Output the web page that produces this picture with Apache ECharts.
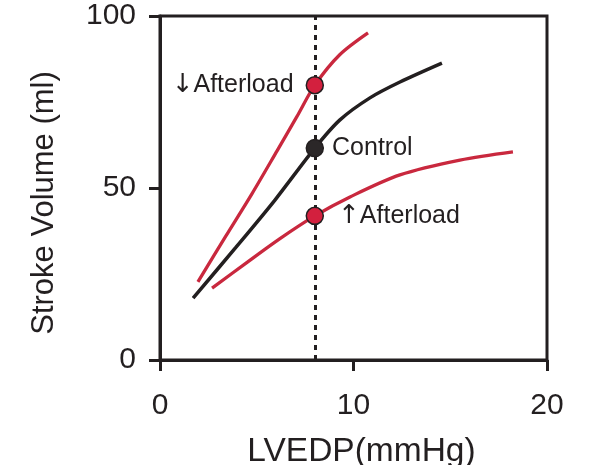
<!DOCTYPE html>
<html>
<head>
<meta charset="utf-8">
<script src="https://cdn.jsdelivr.net/npm/echarts@6/dist/echarts.min.js"></script>
<style>html,body{margin:0;padding:0;background:#fff}#c{width:597px;height:465px}</style>
</head>
<body>
<div id="c"></div>
<script>
// LVEDP (mmHg) vs stroke volume (ml)
const controlX = [1.71, 3.93, 5.94, 8, 9.3, 10.85, 12.4, 14.57];
const controlY = [18.0, 32.8, 46.5, 61.6, 69.8, 76.2, 80.8, 86.3];
const lowAfterloadX = [1.96, 3.4, 4.75, 6.05, 7.08, 8, 9.3, 10.75];
const lowAfterloadY = [22.7, 36.0, 48.3, 60.8, 70.8, 79.9, 88.8, 95.1];
const highAfterloadX = [2.69, 4.5, 6.2, 8, 9.82, 12.4, 15.5, 18.24];
const highAfterloadY = [20.9, 28.4, 35.3, 41.9, 47.4, 53.8, 58.1, 60.5];
const pointArrows = ['\u2193', '', '\u2191'];
const pointLabels = ['Afterload', 'Control', 'Afterload'];
const pointX = [8, 8, 8];
const pointY = [79.9, 61.6, 41.9];
const referenceLVEDP = 8;
const xTicks = [0, 10, 20];
const yTicks = [0, 50, 100];

const zip = (xs, ys) => xs.map((x, i) => [x, ys[i]]);
const RED = '#c9283e';
const DARK = '#231f20';
const FONT = '"Liberation Sans", Arial, Helvetica, sans-serif';

const chart = echarts.init(document.getElementById('c'));
chart.setOption({
  animation: false,
  grid: { left: 160, right: 50, top: 16, bottom: 105, show: true, borderColor: DARK, borderWidth: 3,
          containLabel: false, outerBoundsMode: 'none' },
  xAxis: {
    type: 'value', min: xTicks[0], max: xTicks[2], interval: 10,
    name: 'LVEDP(mmHg)', nameLocation: 'middle', nameGap: 75,
    nameTextStyle: { fontSize: 33.5, color: DARK, fontFamily: FONT, padding: [0, 0, 0, 16] },
    axisLine: { show: true, lineStyle: { color: DARK, width: 3 } },
    axisTick: { show: true, inside: false, length: 11, lineStyle: { color: DARK, width: 3 } },
    axisLabel: { fontSize: 30, color: DARK, fontFamily: FONT, margin: 31 },
    splitLine: { show: false }
  },
  yAxis: {
    type: 'value', min: yTicks[0], max: yTicks[2], interval: 50,
    name: 'Stroke Volume (ml)', nameLocation: 'middle', nameGap: 100,
    nameTextStyle: { fontSize: 31, color: DARK, fontFamily: FONT, padding: [0, 30, 0, 0] },
    axisLine: { show: true, lineStyle: { color: DARK, width: 3 } },
    axisTick: { show: true, inside: false, length: 11, lineStyle: { color: DARK, width: 3 } },
    axisLabel: { fontSize: 30, color: DARK, fontFamily: FONT, margin: 24 },
    splitLine: { show: false }
  },
  series: [
    { type: 'line', data: zip(lowAfterloadX, lowAfterloadY), smooth: 0.3, showSymbol: false,
      lineStyle: { color: RED, width: 3.3 }, z: 2,
      markLine: { silent: true, symbol: 'none', label: { show: false },
        lineStyle: { color: DARK, width: 3, type: [5, 5] },
        data: [{ xAxis: referenceLVEDP }] } },
    { type: 'line', data: zip(controlX, controlY), smooth: 0.3, showSymbol: false,
      lineStyle: { color: DARK, width: 3.5 }, z: 2 },
    { type: 'line', data: zip(highAfterloadX, highAfterloadY), smooth: 0.3, showSymbol: false,
      lineStyle: { color: RED, width: 3.3 }, z: 2 },
    { type: 'scatter', symbolSize: 17, z: 5,
      data: pointX.map((x, i) => ({
        value: [x, pointY[i]],
        itemStyle: { color: i === 1 ? '#2b2728' : '#d3203e', borderColor: DARK, borderWidth: 1.5, opacity: 1 },
        label: {
          show: true,
          formatter: (pointArrows[i] ? '{a|' + pointArrows[i] + '}' : '') + '{t|' + pointLabels[i] + '}',
          rich: {
            a: { fontSize: 26, color: DARK, fontFamily: '"DejaVu Sans"' },
            t: { fontSize: 25, color: DARK, fontFamily: FONT }
          },
          position: i === 0 ? 'left' : 'right', distance: i === 0 ? 12 : (i === 1 ? 8 : 14)
        }
      }))
    }
  ]
});
</script>
</body>
</html>
